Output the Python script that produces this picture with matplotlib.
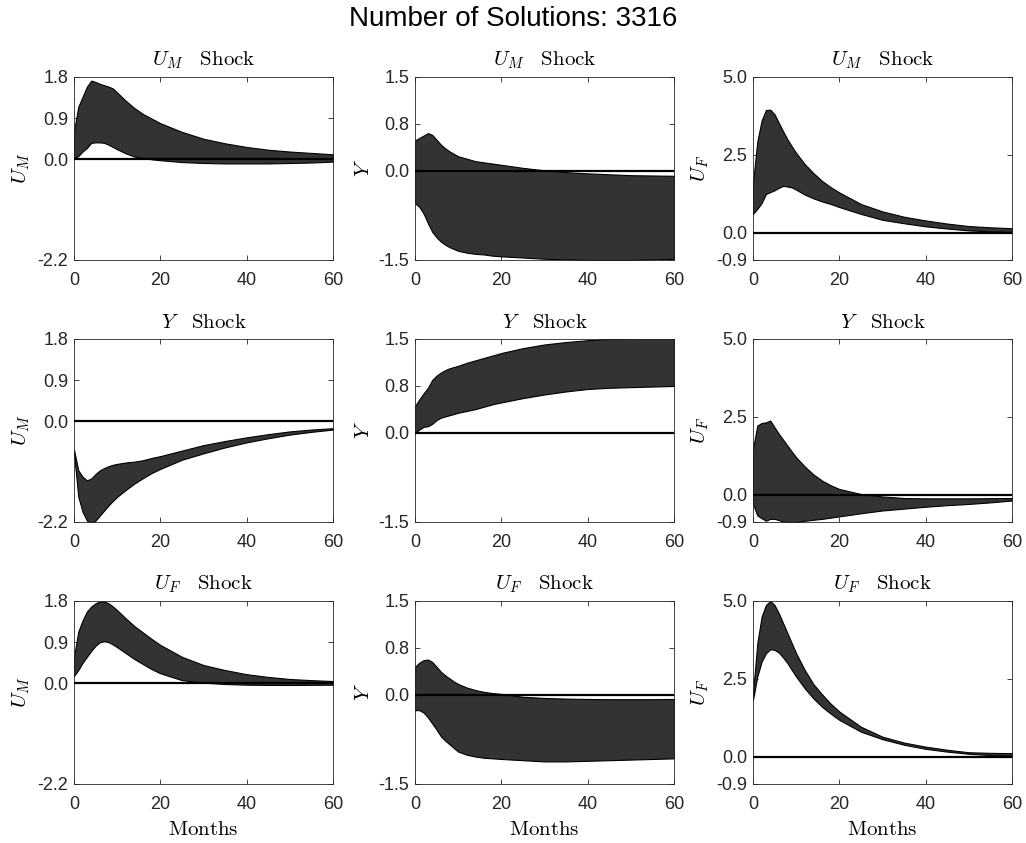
import matplotlib
matplotlib.use("Agg")
import matplotlib.pyplot as plt

months = [0, 1, 2, 3, 4, 5, 6, 7, 8, 9, 10, 12, 14, 16, 18, 20, 25, 30, 35, 40, 45, 50, 55, 60]

# row = shock, column = response
um_shock_um_hi = [0.61, 1.15, 1.37, 1.59, 1.72, 1.69, 1.65, 1.62, 1.59, 1.55, 1.46, 1.28, 1.12, 0.99, 0.89, 0.79, 0.60, 0.45, 0.35, 0.27, 0.21, 0.17, 0.14, 0.11]
um_shock_um_lo = [0.02, 0.07, 0.17, 0.25, 0.36, 0.37, 0.37, 0.36, 0.32, 0.27, 0.22, 0.13, 0.06, 0.03, 0.0, -0.02, -0.06, -0.08, -0.09, -0.09, -0.09, -0.08, -0.07, -0.05]
um_shock_y_hi = [0.50, 0.54, 0.58, 0.62, 0.59, 0.51, 0.43, 0.37, 0.32, 0.28, 0.24, 0.20, 0.16, 0.14, 0.12, 0.10, 0.05, 0.01, -0.02, -0.04, -0.055, -0.07, -0.075, -0.08]
um_shock_y_lo = [-0.53, -0.59, -0.70, -0.86, -1.0, -1.09, -1.16, -1.21, -1.25, -1.28, -1.31, -1.34, -1.36, -1.37, -1.39, -1.40, -1.42, -1.44, -1.45, -1.46, -1.46, -1.46, -1.45, -1.44]
um_shock_uf_hi = [1.6, 2.93, 3.6, 3.94, 3.95, 3.8, 3.52, 3.25, 2.99, 2.77, 2.56, 2.20, 1.91, 1.66, 1.46, 1.29, 0.92, 0.68, 0.51, 0.39, 0.29, 0.21, 0.17, 0.14]
um_shock_uf_lo = [0.60, 0.76, 0.95, 1.24, 1.30, 1.36, 1.44, 1.50, 1.48, 1.45, 1.38, 1.22, 1.10, 1.00, 0.92, 0.82, 0.60, 0.41, 0.30, 0.20, 0.13, 0.07, 0.04, 0.02]

y_shock_um_hi = [-0.62, -1.07, -1.21, -1.29, -1.25, -1.15, -1.07, -1.02, -0.98, -0.95, -0.93, -0.90, -0.88, -0.85, -0.80, -0.76, -0.64, -0.52, -0.43, -0.35, -0.28, -0.22, -0.18, -0.15]
y_shock_um_lo = [-0.70, -1.65, -1.98, -2.17, -2.23, -2.17, -2.06, -1.95, -1.84, -1.74, -1.65, -1.50, -1.36, -1.24, -1.13, -1.04, -0.84, -0.70, -0.57, -0.46, -0.37, -0.29, -0.23, -0.18]
y_shock_y_hi = [0.44, 0.55, 0.65, 0.74, 0.87, 0.94, 0.99, 1.03, 1.06, 1.08, 1.10, 1.15, 1.19, 1.23, 1.27, 1.31, 1.39, 1.45, 1.49, 1.52, 1.54, 1.55, 1.56, 1.57]
y_shock_y_lo = [0.0, 0.055, 0.10, 0.11, 0.15, 0.21, 0.25, 0.27, 0.29, 0.31, 0.33, 0.36, 0.39, 0.43, 0.47, 0.50, 0.57, 0.63, 0.68, 0.72, 0.74, 0.75, 0.76, 0.77]
y_shock_uf_hi = [1.47, 2.22, 2.30, 2.32, 2.38, 2.16, 1.95, 1.76, 1.57, 1.38, 1.20, 0.90, 0.65, 0.45, 0.30, 0.18, 0.02, -0.06, -0.11, -0.12, -0.12, -0.12, -0.115, -0.11]
y_shock_uf_lo = [-0.3, -0.67, -0.76, -0.84, -0.78, -0.78, -0.82, -0.87, -0.88, -0.89, -0.88, -0.84, -0.81, -0.78, -0.74, -0.70, -0.60, -0.51, -0.45, -0.39, -0.34, -0.30, -0.25, -0.19]

uf_shock_um_hi = [0.58, 1.13, 1.38, 1.57, 1.68, 1.75, 1.79, 1.79, 1.75, 1.68, 1.60, 1.42, 1.25, 1.11, 0.97, 0.84, 0.58, 0.40, 0.29, 0.20, 0.14, 0.095, 0.07, 0.05]
uf_shock_um_lo = [0.16, 0.29, 0.45, 0.58, 0.71, 0.82, 0.90, 0.92, 0.90, 0.85, 0.79, 0.66, 0.53, 0.42, 0.31, 0.22, 0.07, 0.015, -0.015, -0.03, -0.035, -0.036, -0.033, -0.03]
uf_shock_y_hi = [0.46, 0.53, 0.57, 0.58, 0.54, 0.46, 0.38, 0.32, 0.27, 0.22, 0.18, 0.12, 0.08, 0.05, 0.03, 0.017, -0.03, -0.05, -0.06, -0.066, -0.07, -0.07, -0.07, -0.066]
uf_shock_y_lo = [-0.25, -0.25, -0.29, -0.37, -0.47, -0.57, -0.68, -0.75, -0.81, -0.87, -0.93, -0.98, -1.01, -1.03, -1.04, -1.05, -1.07, -1.09, -1.09, -1.08, -1.07, -1.06, -1.05, -1.04]
uf_shock_uf_hi = [2.03, 3.64, 4.50, 4.87, 5.0, 4.87, 4.60, 4.28, 3.96, 3.64, 3.32, 2.78, 2.33, 2.00, 1.70, 1.45, 0.96, 0.64, 0.45, 0.32, 0.22, 0.14, 0.12, 0.11]
uf_shock_uf_lo = [1.82, 2.57, 3.05, 3.32, 3.45, 3.43, 3.34, 3.18, 3.0, 2.78, 2.57, 2.19, 1.87, 1.60, 1.38, 1.18, 0.80, 0.56, 0.38, 0.25, 0.16, 0.09, 0.05, 0.02]

shock_names = [r"$U_M$", r"$Y$", r"$U_F$"]
var_names = [r"$U_M$", r"$Y$", r"$U_F$"]

bands = [
    [(um_shock_um_lo, um_shock_um_hi), (um_shock_y_lo, um_shock_y_hi), (um_shock_uf_lo, um_shock_uf_hi)],
    [(y_shock_um_lo, y_shock_um_hi), (y_shock_y_lo, y_shock_y_hi), (y_shock_uf_lo, y_shock_uf_hi)],
    [(uf_shock_um_lo, uf_shock_um_hi), (uf_shock_y_lo, uf_shock_y_hi), (uf_shock_uf_lo, uf_shock_uf_hi)],
]

# y range, tick positions and labels for each response column
y_limits = [(-2.2, 1.8), (-1.46, 1.54), (-0.88, 5.0)]
y_ticks = [[-2.2, 0.0, 0.9, 1.8], [-1.46, 0.0, 0.77, 1.54], [-0.88, 0.0, 2.5, 5.0]]
y_ticklabels = [["-2.2", "0.0", "0.9", "1.8"], ["-1.5", "0.0", "0.8", "1.5"], ["-0.9", "0.0", "2.5", "5.0"]]
x_ticks = [0, 20, 40, 60]

plt.rcParams["mathtext.fontset"] = "cm"
plt.rcParams["font.family"] = ["Liberation Sans", "DejaVu Sans"]

fig = plt.figure(figsize=(10.26, 8.43), dpi=100)

lefts = [0.0721, 0.4045, 0.7339]
bottoms = [0.6916, 0.3808, 0.0700]
w, h = 0.2524, 0.2171

for r in range(3):
    for c in range(3):
        ax = fig.add_axes([lefts[c], bottoms[r], w, h])
        lo, hi = bands[r][c]
        ax.fill_between(months, lo, hi, facecolor="#333333", edgecolor="black", linewidth=0.8, zorder=2)
        ax.axhline(0, color="black", linewidth=1.6, zorder=3)
        ax.set_xlim(0, 60)
        ax.set_ylim(*y_limits[c])
        ax.set_xticks(x_ticks)
        ax.set_yticks(y_ticks[c])
        ax.set_yticklabels(y_ticklabels[c])
        ax.tick_params(direction="in", top=True, right=True, length=3.5, width=0.6,
                       labelsize=13, colors="#262626")
        ax.tick_params(axis="x", pad=9)
        ax.tick_params(axis="y", pad=4)
        for sp in ax.spines.values():
            sp.set_linewidth(0.6)
            sp.set_color("#262626")
        ax.set_title(shock_names[r] + r"$\quad\mathrm{Shock}$", fontsize=15, pad=8)
        ax.set_ylabel(var_names[c], fontsize=15, labelpad=4)
        if r == 2:
            ax.set_xlabel(r"$\mathrm{Months}$", fontsize=15, labelpad=5)

fig.suptitle("Number of Solutions: 3316", fontsize=20, y=0.993)

fig.savefig("out.png", dpi=100)
